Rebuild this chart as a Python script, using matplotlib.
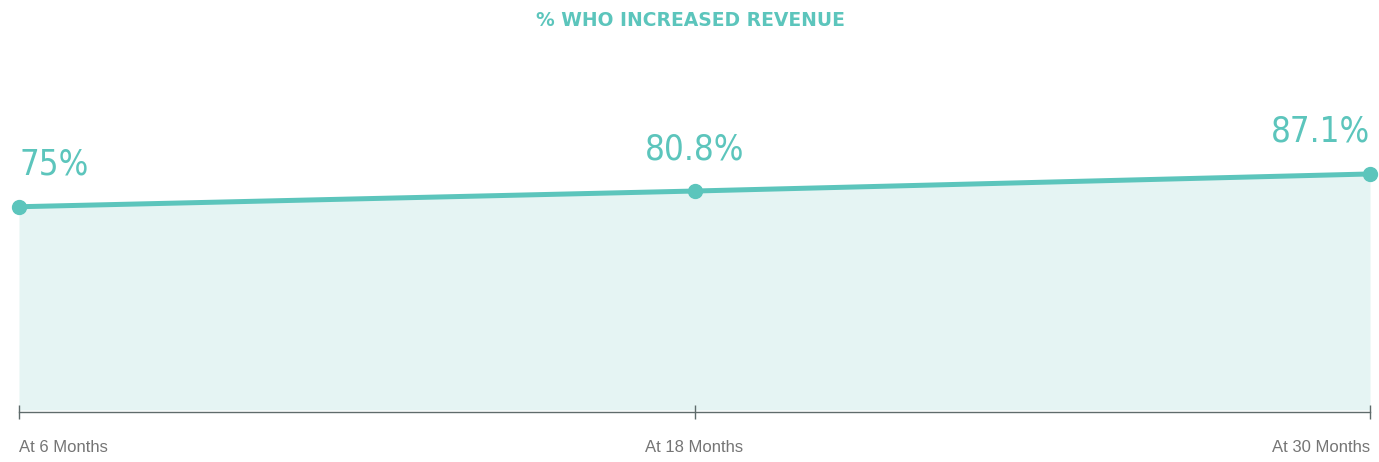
import matplotlib
matplotlib.use("Agg")
import matplotlib.pyplot as plt

categories = ["At 6 Months", "At 18 Months", "At 30 Months"]
values = [75.0, 80.8, 87.1]
value_labels = ["75%", "80.8%", "87.1%"]
title = "% WHO INCREASED REVENUE"

TEAL = "#5cc5bc"
FILL = "#e5f4f3"
GRAY = "#757575"
AXIS = "#5f6b6b"

fig = plt.figure(figsize=(13.79, 4.62), dpi=100)
ax = fig.add_axes([19/1379, 52/462, 1351/1379, 271/462])
x = list(range(len(categories)))
ax.fill_between(x, 0, values, color=FILL, linewidth=0, zorder=1)
ax.plot(x, values, color=TEAL, linewidth=3.6, marker="o", markersize=10,
        solid_capstyle="round", zorder=3, clip_on=False)
ax.set_xlim(0, len(categories) - 1)
ax.set_ylim(0, 100)

for s in ["top", "right", "left"]:
    ax.spines[s].set_visible(False)
ax.spines["bottom"].set_color(AXIS)
ax.spines["bottom"].set_linewidth(1.0)
ax.spines["bottom"].set_position(("outward", 1.5))
ax.set_yticks([])
ax.set_xticks(x)
ax.set_xticklabels([])
ax.tick_params(axis="x", direction="inout", length=10, width=1.0, color=AXIS)

has = ["left", "center", "right"]
for i, (xi, v, lab) in enumerate(zip(x, values, value_labels)):
    ax.annotate(lab, (xi, v), xytext=(0, 18), textcoords="offset points",
                ha=has[i], va="bottom", fontsize=25, color=TEAL,
                family=["DejaVu Sans"], fontstretch="condensed")
    ax.annotate(categories[i], (xi, 0), xytext=(0, -27), textcoords="offset points",
                ha=has[i], va="center", fontsize=12, color=GRAY,
                family=["Liberation Sans", "DejaVu Sans"], annotation_clip=False)

fig.text(0.5 + 1/1379, 1 - 20/462, title, ha="center", va="center", fontsize=13.5,
         fontweight="bold", color=TEAL, family=["DejaVu Sans"])

fig.savefig("out.png", dpi=100, facecolor="white")
